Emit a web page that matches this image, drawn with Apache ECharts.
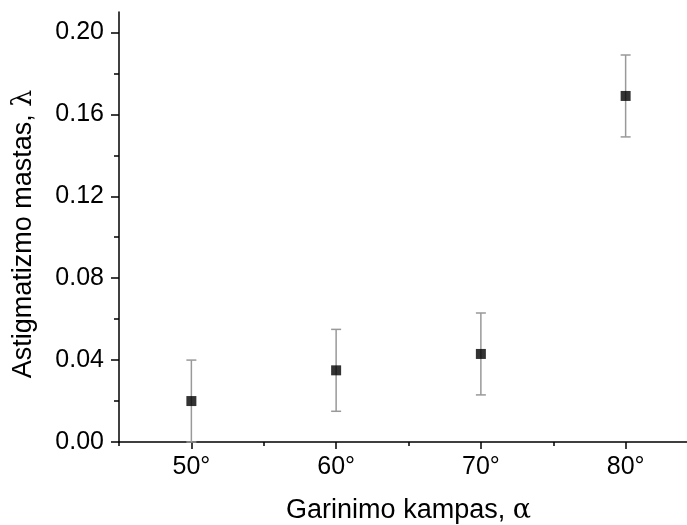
<!DOCTYPE html>
<html>
<head>
<meta charset="utf-8">
<script src="https://cdn.jsdelivr.net/npm/echarts@6/dist/echarts.min.js"></script>
<style>
  html, body { margin: 0; padding: 0; background: #fff; }
  #chart { width: 687px; height: 525px; }
</style>
</head>
<body>
<div id="chart"></div>
<script>
// evaporation angle (deg) vs astigmatism magnitude
const angles = [50, 60, 70, 80];
const values = [0.020, 0.035, 0.043, 0.169];
const errors = [0.020, 0.020, 0.020, 0.020];

const xMajorTicks = [50, 60, 70, 80];
const xMinorTicks = [45, 55, 65, 75];
const yMajorTicks = [0, 0.04, 0.08, 0.12, 0.16, 0.20];
const yMinorTicks = [0.02, 0.06, 0.10, 0.14, 0.18];

const chart = echarts.init(document.getElementById("chart"));

const font = "Liberation Sans, Arial, sans-serif";
const greek = "DejaVu Serif, Liberation Serif, serif";

const points = angles.map((a, i) => [a, values[i]]);
const bars = angles.map((a, i) => [a, values[i] - errors[i], values[i] + errors[i]]);

const option = {
  animation: false,
  backgroundColor: "#fff",
  grid: { left: 119, top: 12, width: 579, height: 430, outerBoundsMode: "none" },
  xAxis: [
    {
      type: "value",
      min: 45,
      max: 85,
      splitLine: { show: false },
      axisLine: { lineStyle: { color: "#000", width: 1.5 } },
      axisTick: { customValues: xMajorTicks, length: 7, lineStyle: { color: "#000", width: 1.5 } },
      axisLabel: {
        customValues: xMajorTicks,
        formatter: (v) => v + "°",
        margin: 13,
        color: "#000",
        fontSize: 25,
        fontFamily: font,
      },
      name: "Garinimo kampas, {g|α}",
      nameLocation: "middle",
      nameGap: 55,
      nameTextStyle: {
        color: "#000",
        fontSize: 27,
        fontFamily: font,
        rich: { g: { fontSize: 27, fontFamily: greek, color: "#000" } },
      },
    },
    {
      type: "value",
      min: 45,
      max: 85,
      position: "bottom",
      axisLine: { show: false },
      splitLine: { show: false },
      axisTick: { customValues: xMinorTicks, length: 4, lineStyle: { color: "#000", width: 1.5 } },
      axisLabel: { show: false },
    },
  ],
  yAxis: [
    {
      type: "value",
      min: 0,
      max: 0.21,
      splitLine: { show: false },
      axisLine: { show: true, lineStyle: { color: "#000", width: 1.5 } },
      axisTick: { show: true, customValues: yMajorTicks, length: 8, lineStyle: { color: "#000", width: 1.5 } },
      axisLabel: {
        customValues: yMajorTicks,
        formatter: (v) => v.toFixed(2),
        margin: 15,
        color: "#000",
        fontSize: 25,
        fontFamily: font,
      },
      name: "Astigmatizmo mastas, {g|λ}",
      nameLocation: "middle",
      nameGap: 82,
      nameTextStyle: {
        color: "#000",
        fontSize: 27,
        fontFamily: font,
        padding: [0, 14, 0, 0],
        rich: { g: { fontSize: 27, fontFamily: greek, color: "#000" } },
      },
    },
    {
      type: "value",
      min: 0,
      max: 0.21,
      position: "left",
      axisLine: { show: false },
      splitLine: { show: false },
      axisTick: { show: true, customValues: yMinorTicks, length: 5, lineStyle: { color: "#000", width: 1.5 } },
      axisLabel: { show: false },
    },
  ],
  series: [
    {
      type: "custom",
      data: bars,
      z: 1,
      renderItem: (params, api) => {
        const x = api.value(0);
        const lo = api.coord([x, api.value(1)]);
        const hi = api.coord([x, api.value(2)]);
        const half = 5;
        const style = { stroke: "#999", lineWidth: 1.5 };
        return {
          type: "group",
          children: [
            { type: "line", shape: { x1: lo[0], y1: lo[1], x2: hi[0], y2: hi[1] }, style },
            { type: "line", shape: { x1: hi[0] - half, y1: hi[1], x2: hi[0] + half, y2: hi[1] }, style },
            { type: "line", shape: { x1: lo[0] - half, y1: lo[1], x2: lo[0] + half, y2: lo[1] }, style },
          ],
        };
      },
    },
    {
      type: "scatter",
      data: points,
      symbol: "rect",
      symbolSize: 10,
      z: 3,
      itemStyle: { color: "#000" },
    },
  ],
};

chart.setOption(option);
</script>
</body>
</html>
